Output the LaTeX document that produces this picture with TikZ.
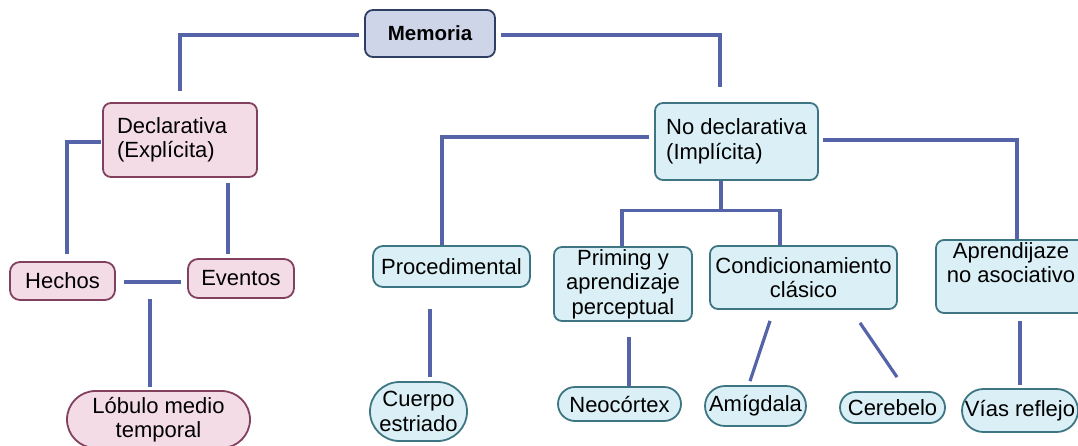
\documentclass[tikz,border=0pt]{standalone}
\usepackage{fontspec}
\setmainfont{Liberation Sans}
\usetikzlibrary{calc,shapes.misc,backgrounds}
\definecolor{linec}{HTML}{5563A8}
\definecolor{pinkf}{HTML}{F4DCE7}
\definecolor{pinkd}{HTML}{82405F}
\definecolor{bluef}{HTML}{DAF0F6}
\definecolor{blued}{HTML}{3D7682}
\definecolor{memf}{HTML}{CED5E8}
\definecolor{memd}{HTML}{2E3F63}
\begin{document}
\begin{tikzpicture}[x=1pt,y=-1pt,
  txt/.style={font=\fontsize{22}{24.5}\selectfont},
  box/.style={rectangle, rounded corners=8pt, line width=1.8pt, inner sep=0pt, txt, align=center},
  pinkbox/.style={box, fill=pinkf, draw=pinkd},
  bluebox/.style={box, fill=bluef, draw=blued},
  pill/.style={rounded rectangle, line width=1.8pt, inner sep=0pt, txt, align=center},
  pinkpill/.style={pill, fill=pinkf, draw=pinkd},
  bluepill/.style={pill, fill=bluef, draw=blued},
  conn/.style={draw=linec, line width=3.2pt}
]
\useasboundingbox (0,0) rectangle (1078,445);
\clip (0,0) rectangle (1078,445);

% nodes
\node[box, fill=memf, draw=memd, minimum width=130pt, minimum height=47pt,
      font=\fontsize{20.5}{24}\selectfont\bfseries] (mem) at (430,33.5) {Memoria};
\node[pinkbox, minimum height=74pt, inner xsep=14pt, text width=126pt, align=left] (decl) at (180,140)
  {Declarativa\\(Explícita)};
\node[bluebox, minimum width=163pt, minimum height=77pt, align=left] (nodecl) at (736.5,141.5)
  {No declarativa\\(Implícita)};
\node[pinkbox, minimum width=105pt, minimum height=38pt, rounded corners=10pt] (hechos) at (62.5,281) {Hechos};
\node[pinkbox, minimum width=106pt, minimum height=39pt, rounded corners=10pt] (eventos) at (241,278.5) {Eventos};
\node[pinkpill, minimum width=183pt, minimum height=57pt] (lob) at (158.5,419.5) {Lóbulo medio\\temporal};
\node[bluebox, minimum width=157pt, minimum height=41pt, rounded corners=10pt] (proc) at (451.5,266.5) {Procedimental};
\node[bluepill, minimum width=97pt, minimum height=59pt] (cuerpo) at (418.5,411.5) {Cuerpo\\estriado};
\node[bluebox, minimum width=138pt, minimum height=74pt] (prim) at (623,284) {Priming y\\aprendizaje\\perceptual};
\node[bluepill, minimum width=123pt, minimum height=34pt] (neo) at (619.5,404) {Neocórtex};
\node[bluebox, minimum width=187pt, minimum height=63pt] (cond) at (803.5,277.5) {Condicionamiento\\clásico};
\node[bluepill, minimum width=101pt, minimum height=40pt] (amig) at (755.5,406) {Amígdala};
\node[bluepill, minimum width=105pt, minimum height=31pt] (cereb) at (892.5,407.5) {Cerebelo};
\node[bluebox, minimum width=150pt, minimum height=73pt,
      label={[txt, align=center, anchor=north, inner sep=0pt, yshift=-3pt]north:{Aprendijaze\\no asociativo}}] (aprend) at (1011,276.5) {};
\node[bluepill, minimum width=116pt, minimum height=43pt] (vias) at (1020,410.5) {Vías reflejo};

% connectors
\begin{pgfonlayer}{background}
\draw[conn] ($(mem.west)+(-5,1.5)$) -| ($(decl.north)+(0,-11)$);
\draw[conn] ($(mem.east)+(5,1.5)$) -| ($(nodecl.north)+(-16.5,-15)$);
\draw[conn] ($(decl.west)+(-1,2)$) -| ($(hechos.north)+(4.5,-7)$);
\draw[conn] ($(decl.south)+(48,5)$) -- ($(eventos.north)+(-13,-4)$);
\draw[conn] ($(hechos.east)+(8,1)$) -- ($(eventos.west)+(-6,3.5)$);
\draw[conn] ($(lob.north)+(-8.5,-91)$) -- ($(lob.north)+(-8.5,-3)$);
\draw[conn] ($(nodecl.west)+(-5,-4.5)$) -| ($(proc.north)+(-9.5,2)$);
\draw[conn] ($(nodecl.east)+(4,-1.5)$) -| ($(aprend.north)+(6,0)$);
\draw[conn] ($(nodecl.south)+(-15.5,0)$) -- ($(nodecl.south)+(-15.5,31)$);
\draw[conn] ($(prim.north)+(-1,0)$) |- ($(cond.north)+(-23.5,-35)$) -- ($(cond.north)+(-23.5,0)$);
\draw[conn] ($(proc.south)+(-21.5,21)$) -- ($(cuerpo.north)+(11.5,-4)$);
\draw[conn] ($(prim.south)+(6,15)$) -- ($(neo.north)+(9.5,0)$);
\draw[conn] ($(cond.south)+(-33.5,11)$) -- ($(amig.north)+(-5.5,-4)$);
\draw[conn] ($(cond.south)+(56.5,13)$) -- ($(cereb.north)+(4.5,-14)$);
\draw[conn] ($(aprend.south)+(9,7)$) -- ($(vias.north)+(0,-3)$);
\end{pgfonlayer}
\end{tikzpicture}
\end{document}
